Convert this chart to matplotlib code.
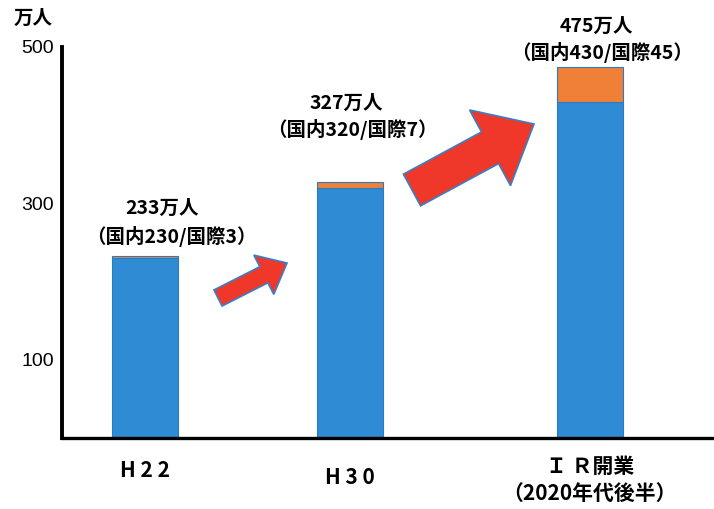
import matplotlib.pyplot as plt
from matplotlib.patches import FancyArrow

plt.rcParams['font.family'] = ['Noto Sans CJK JP', 'DejaVu Sans']

periods = ['H 2 2', 'H 3 0', 'Ｉ Ｒ開業\n（2020年代後半）']
domestic = [230, 320, 430]
international = [3, 7, 45]
totals = [233, 327, 475]
yticks = [100, 300, 500]

xpos = [0, 1, 2.17]
blue = '#2f8bd3'
orange = '#f08038'

fig = plt.figure(figsize=(7.14, 5.09), dpi=100)
ax = fig.add_axes([0.0868, 0.1395, 0.9132, 0.7682])

ax.bar(xpos, domestic, width=0.32, color=blue, edgecolor='#2a7cc0', linewidth=0.8)
ax.bar(xpos, international, width=0.32, bottom=domestic, color=orange,
       edgecolor='#2a7cc0', linewidth=0.8)

ax.set_xlim(-0.405, 2.776)
ax.set_ylim(0, 500)
ax.set_yticks(yticks)
ax.set_yticklabels([str(v) for v in yticks], fontsize=14, family='Liberation Sans')
ax.tick_params(axis='y', length=0, pad=6)
ax.set_xticks([])

for s in ['top', 'right']:
    ax.spines[s].set_visible(False)
ax.spines['left'].set_linewidth(2.8)
ax.spines['bottom'].set_linewidth(2.4)

# 期間ラベル（個別に高さを調整）
label_y = [-0.082, -0.102, -0.107]
for x, p, ly in zip(xpos, periods, label_y):
    ax.text(x, ly, p, transform=ax.get_xaxis_transform(), ha='center', va='center',
            fontsize=15, fontweight='bold', linespacing=1.35)

# 合計と内訳のラベル（棒の上端からのずれ, pt）
off1 = [(12, 34), (-3, 57), (5, 29)]
off2 = [(19, 14), (2, 38), (9, 10)]
for x, t, d, i, o1, o2 in zip(xpos, totals, domestic, international, off1, off2):
    top = d + i
    ax.annotate(f'{t}万人', (x, top), xytext=o1, textcoords='offset points',
                ha='center', va='center', fontsize=14, fontweight='bold')
    ax.annotate(f'（国内{d}/国際{i}）', (x, top), xytext=o2,
                textcoords='offset points', ha='center', va='center',
                fontsize=14, fontweight='bold')

fig.text(0.046, 0.964, '万人', ha='center', va='center', fontsize=14, fontweight='bold')

# 増加を示す矢印
tr = fig.dpi_scale_trans
fig.patches.append(FancyArrow(2.18, 2.11, 0.69, 0.35, width=0.18, head_width=0.44,
                              head_length=0.26, length_includes_head=True,
                              facecolor='#f0382a', edgecolor='#3a7fc4',
                              linewidth=1.2, transform=tr))
fig.patches.append(FancyArrow(4.12, 3.19, 1.22, 0.66, width=0.36, head_width=0.86,
                              head_length=0.5, length_includes_head=True,
                              facecolor='#f0382a', edgecolor='#3a7fc4',
                              linewidth=1.2, transform=tr))

fig.savefig('out.png', dpi=100)
